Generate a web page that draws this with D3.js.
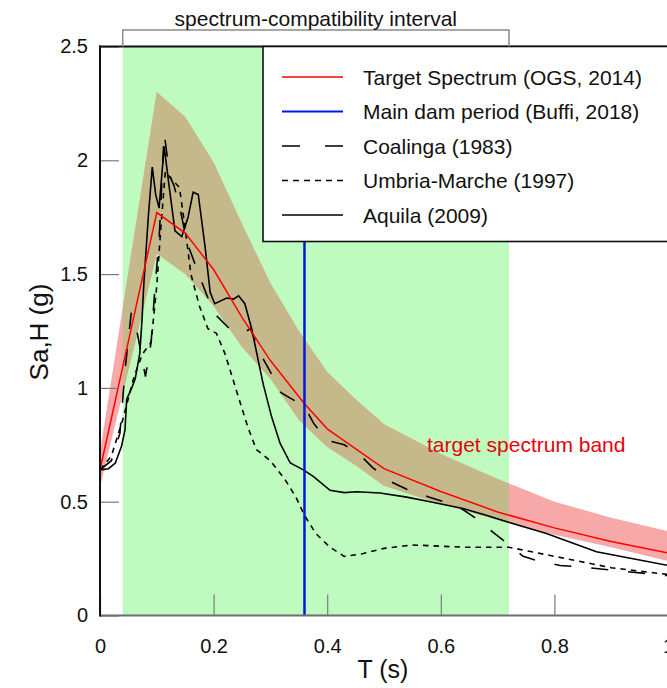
<!DOCTYPE html>
<html>
<head>
<meta charset="utf-8">
<script src="https://cdn.jsdelivr.net/npm/d3@7"></script>
<style>
  html, body { margin: 0; padding: 0; background: #fff; }
  svg { display: block; font-family: "Liberation Sans", Arial, sans-serif; }
</style>
</head>
<body>
<div id="chart"></div>
<script>
// ---- data ----
const xTicks = [0, 0.2, 0.4, 0.6, 0.8, 1];
const yTicks = [0, 0.5, 1, 1.5, 2, 2.5];
const compatInterval = [0.04, 0.72];
const damPeriod = 0.36;

const targetT  = [0, 0.1, 0.15, 0.2, 0.25, 0.3, 0.36, 0.4, 0.5, 0.6, 0.7, 0.8, 0.9, 1.0];
const targetSa = [0.64, 1.77, 1.68, 1.52, 1.31, 1.12, 0.93, 0.82, 0.645, 0.545, 0.455, 0.385, 0.325, 0.275];

const bandT     = [0, 0.1, 0.15, 0.2, 0.25, 0.3, 0.35, 0.4, 0.45, 0.5, 0.6, 0.7, 0.8, 0.9, 1.0];
const bandUpper = [0.72, 2.30, 2.19, 1.99, 1.72, 1.46, 1.25, 1.07, 0.95, 0.84, 0.71, 0.60, 0.50, 0.43, 0.37];
const bandLower = [0.565, 1.59, 1.50, 1.36, 1.18, 1.04, 0.86, 0.74, 0.66, 0.57, 0.49, 0.42, 0.355, 0.30, 0.24];

const coalingaT  = [0, 0.02, 0.035, 0.045, 0.055, 0.065, 0.08, 0.09, 0.097, 0.104, 0.113, 0.123, 0.13, 0.14, 0.153, 0.165, 0.18, 0.2, 0.23, 0.25, 0.265, 0.28, 0.3, 0.318, 0.335, 0.36, 0.376, 0.4, 0.43, 0.46, 0.48, 0.51, 0.54, 0.58, 0.63, 0.66, 0.69, 0.715, 0.745, 0.77, 0.81, 0.84, 0.9, 0.98, 1.0];
const coalingaSa = [0.64, 0.68, 0.80, 1.10, 1.33, 1.25, 1.05, 1.20, 1.45, 1.65, 2.12, 1.93, 1.89, 1.80, 1.64, 1.56, 1.46, 1.33, 1.255, 1.24, 1.26, 1.16, 1.07, 0.98, 0.955, 0.92, 0.845, 0.77, 0.75, 0.70, 0.65, 0.59, 0.555, 0.52, 0.48, 0.43, 0.37, 0.32, 0.26, 0.24, 0.22, 0.215, 0.20, 0.18, 0.175];

const umbriaT  = [0, 0.02, 0.04, 0.06, 0.075, 0.09, 0.1, 0.107, 0.115, 0.125, 0.14, 0.15, 0.16, 0.175, 0.19, 0.205, 0.22, 0.24, 0.26, 0.275, 0.3, 0.325, 0.345, 0.36, 0.38, 0.405, 0.43, 0.46, 0.5, 0.55, 0.64, 0.72, 0.8, 0.9, 1.0];
const umbriaSa = [0.64, 0.70, 0.86, 1.05, 1.15, 1.20, 1.45, 1.70, 1.95, 1.92, 1.88, 1.70, 1.50, 1.36, 1.26, 1.24, 1.15, 0.99, 0.83, 0.73, 0.68, 0.60, 0.52, 0.44, 0.36, 0.30, 0.26, 0.27, 0.295, 0.31, 0.30, 0.30, 0.26, 0.21, 0.18];

const aquilaT  = [0, 0.015, 0.027, 0.038, 0.044, 0.047, 0.056, 0.062, 0.07, 0.074, 0.077, 0.085, 0.092, 0.098, 0.104, 0.113, 0.122, 0.132, 0.144, 0.155, 0.164, 0.173, 0.185, 0.194, 0.202, 0.223, 0.235, 0.244, 0.255, 0.267, 0.287, 0.302, 0.317, 0.335, 0.358, 0.376, 0.405, 0.43, 0.452, 0.493, 0.54, 0.581, 0.639, 0.68, 0.719, 0.786, 0.874, 1.0];
const aquilaSa = [0.64, 0.645, 0.67, 0.745, 0.815, 0.95, 1.0, 1.04, 1.15, 1.30, 1.45, 1.75, 1.97, 1.85, 1.79, 2.06, 1.88, 1.69, 1.665, 1.75, 1.86, 1.85, 1.62, 1.42, 1.37, 1.395, 1.39, 1.405, 1.37, 1.26, 1.02, 0.874, 0.757, 0.67, 0.64, 0.61, 0.55, 0.54, 0.544, 0.538, 0.52, 0.50, 0.47, 0.44, 0.41, 0.36, 0.28, 0.22];

const legendLabels = ['Target Spectrum (OGS, 2014)', 'Main dam period (Buffi, 2018)', 'Coalinga (1983)', 'Umbria-Marche (1997)', 'Aquila (2009)'];

// ---- layout ----
const W = 667, H = 688;
const margin = { top: 46.5, right: -1, bottom: 72.5, left: 100 };

const svg = d3.select('#chart').append('svg')
  .attr('width', W)
  .attr('height', H);

const x = d3.scaleLinear().domain([0, 1]).range([margin.left, W - margin.right]);
const y = d3.scaleLinear().domain([0, 2.5]).range([H - margin.bottom, margin.top]);

const zip = (ts, vs) => ts.map((t, i) => ({ t: t, v: vs[i] }));

svg.append('clipPath').attr('id', 'plot')
  .append('rect')
  .attr('x', x(0)).attr('y', y(2.5))
  .attr('width', x(1) - x(0)).attr('height', y(0) - y(2.5));

svg.append('clipPath').attr('id', 'interval')
  .append('rect')
  .attr('x', x(compatInterval[0])).attr('y', y(2.5))
  .attr('width', x(compatInterval[1]) - x(compatInterval[0])).attr('height', y(0) - y(2.5));

const plot = svg.append('g').attr('clip-path', 'url(#plot)');

// green spectrum-compatibility interval
plot.append('rect')
  .attr('x', x(compatInterval[0]))
  .attr('y', y(2.5))
  .attr('width', x(compatInterval[1]) - x(compatInterval[0]))
  .attr('height', y(0) - y(2.5))
  .attr('fill', '#bffbbf');

// target band (pink, khaki where it overlaps the interval)
const band = bandT.map((t, i) => ({ t: t, lo: bandLower[i], hi: bandUpper[i] }));
const area = d3.area()
  .x(d => x(d.t))
  .y0(d => y(d.lo))
  .y1(d => y(d.hi));

plot.append('path')
  .datum(band)
  .attr('fill', '#f7a9a9')
  .attr('d', area);

plot.append('path')
  .datum(band)
  .attr('clip-path', 'url(#interval)')
  .attr('fill', '#c5b98b')
  .attr('d', area);

const line = d3.line().x(d => x(d.t)).y(d => y(d.v));

const series = [
  { data: zip(coalingaT, coalingaSa), dash: '17,20' },
  { data: zip(umbriaT, umbriaSa), dash: '5.5,5' },
  { data: zip(aquilaT, aquilaSa), dash: null }
];

series.forEach(s => {
  plot.append('path')
    .datum(s.data)
    .attr('fill', 'none')
    .attr('stroke', '#000')
    .attr('stroke-width', 1.6)
    .attr('stroke-dasharray', s.dash)
    .attr('d', line);
});

plot.append('path')
  .datum(zip(targetT, targetSa))
  .attr('fill', 'none')
  .attr('stroke', '#ff0000')
  .attr('stroke-width', 1.5)
  .attr('d', line);

plot.append('line')
  .attr('x1', x(damPeriod)).attr('x2', x(damPeriod))
  .attr('y1', y(0)).attr('y2', y(2.5))
  .attr('stroke', '#0018e0')
  .attr('stroke-width', 2.5);

plot.append('text')
  .attr('x', 427)
  .attr('y', 452)
  .attr('fill', '#e8000b')
  .style('font-size', '21px')
  .text('target spectrum band');

// axes: inward ticks
const xAxis = svg.append('g')
  .attr('transform', `translate(0,${y(0)})`)
  .call(d3.axisBottom(x).tickValues(xTicks).tickFormat(d3.format('')).tickSizeInner(-21).tickSizeOuter(0).tickPadding(23));
const yAxis = svg.append('g')
  .attr('transform', `translate(${x(0)},0)`)
  .call(d3.axisLeft(y).tickValues(yTicks).tickFormat(d3.format('')).tickSizeInner(-19).tickSizeOuter(0).tickPadding(12));

[xAxis, yAxis].forEach(g => {
  g.select('.domain').remove();
  g.selectAll('.tick line').attr('stroke', '#7a7a7a').attr('stroke-width', 1.2);
  g.selectAll('.tick text').attr('fill', '#111').style('font-size', '20px').attr('font-family', null);
});

// frame lines
svg.append('line')
  .attr('x1', x(0)).attr('x2', W).attr('y1', y(0)).attr('y2', y(0))
  .attr('stroke', '#6e6e6e').attr('stroke-width', 2);
svg.append('line')
  .attr('x1', x(0)).attr('x2', x(0)).attr('y1', y(0) + 1).attr('y2', y(2.5) - 1)
  .attr('stroke', '#111').attr('stroke-width', 2);
svg.append('line')
  .attr('x1', x(0) - 1).attr('x2', W).attr('y1', y(2.5)).attr('y2', y(2.5))
  .attr('stroke', '#111').attr('stroke-width', 2);

// legend
const legend = svg.append('g');
legend.append('rect')
  .attr('x', 263).attr('y', y(2.5))
  .attr('width', 430).attr('height', 195)
  .attr('fill', '#fff')
  .attr('stroke', '#111')
  .attr('stroke-width', 1.6);

const legendStyles = [
  { color: '#ff0000', dash: null, w: 1.6 },
  { color: '#0018e0', dash: null, w: 2.2 },
  { color: '#000', dash: '18,25', w: 1.4 },
  { color: '#000', dash: '6,5', w: 1.6 },
  { color: '#000', dash: null, w: 1.6 }
];
const rowY = d3.scaleLinear().domain([0, 4]).range([77, 215]);

legendLabels.forEach((label, i) => {
  const st = legendStyles[i];
  legend.append('line')
    .attr('x1', 282).attr('x2', 343)
    .attr('y1', rowY(i)).attr('y2', rowY(i))
    .attr('stroke', st.color)
    .attr('stroke-width', st.w)
    .attr('stroke-dasharray', st.dash);
  legend.append('text')
    .attr('x', 363).attr('y', rowY(i))
    .attr('dy', '0.36em')
    .attr('fill', '#111')
    .style('font-size', '21px')
    .text(label);
});

// interval bracket above the plot
const bracket = d3.path();
bracket.moveTo(x(compatInterval[0]), y(2.5));
bracket.lineTo(x(compatInterval[0]), 30);
bracket.lineTo(x(compatInterval[1]), 30);
bracket.lineTo(x(compatInterval[1]), y(2.5));
svg.append('path')
  .attr('d', bracket.toString())
  .attr('fill', 'none')
  .attr('stroke', '#8a8a8a')
  .attr('stroke-width', 1.5);

svg.append('text')
  .attr('x', (x(compatInterval[0]) + x(compatInterval[1])) / 2)
  .attr('y', 26)
  .attr('text-anchor', 'middle')
  .attr('fill', '#111')
  .style('font-size', '21px')
  .text('spectrum-compatibility interval');

// axis titles
svg.append('text')
  .attr('x', 383).attr('y', 678)
  .attr('text-anchor', 'middle')
  .attr('fill', '#111')
  .style('font-size', '25px')
  .text('T (s)');

svg.append('text')
  .attr('transform', 'translate(48,332) rotate(-90)')
  .attr('text-anchor', 'middle')
  .attr('fill', '#111')
  .style('font-size', '26px')
  .text('Sa,H (g)');
</script>
</body>
</html>
